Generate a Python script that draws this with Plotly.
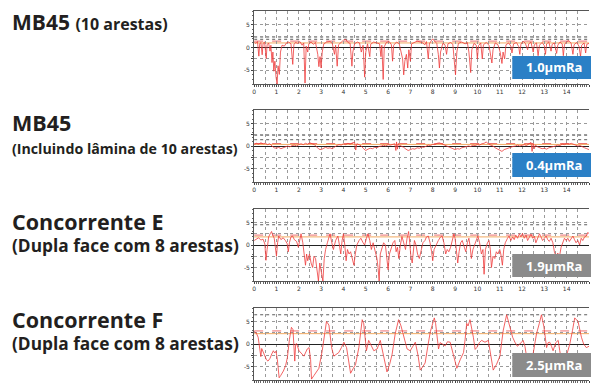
import plotly.graph_objects as go

W, H = 591, 387

# ---------------- data ----------------
titles_main = ["MB45", "MB45", "Concorrente E", "Concorrente F"]
titles_sub = ["(10 arestas)", "(Incluindo lâmina de 10 arestas)",
              "(Dupla face com 8 arestas)", "(Dupla face com 8 arestas)"]
ra_labels = ["1.0µmRa", "0.4µmRa", "1.9µmRa", "2.5µmRa"]
x_ticks = list(range(0, 16))
y_ticks = [-5, 0, 5]

p1 = [(0.00, 1.2), (0.08, 0.9), (0.15, 1.3), (0.21, -1.9), (0.25, 0.8), (0.30, 1.1), (0.36, -1.6),
      (0.40, 0.9), (0.47, 1.2), (0.54, -2.4), (0.58, 0.6), (0.65, 1.0), (0.71, -0.8), (0.75, 0.5),
      (0.80, -3.3), (0.84, -1.0), (0.88, -5.2), (0.93, -3.0), (0.98, -6.5), (1.03, -8.0), (1.07, -4.0),
      (1.13, -5.9), (1.18, -1.0), (1.25, 0.5), (1.35, 0.3), (1.45, 1.0), (1.55, 1.2), (1.65, 0.8),
      (1.73, -3.7), (1.78, 0.6), (1.85, 1.1), (1.95, 0.9), (2.05, 1.3), (2.15, 0.5), (2.22, 1.0),
      (2.28, -7.8), (2.33, 0.3), (2.40, -1.0), (2.45, 0.8), (2.55, 1.2), (2.65, 0.7), (2.75, 1.1),
      (2.85, -1.5), (2.90, -4.2), (2.95, -2.0), (3.00, -4.5), (3.05, -1.0), (3.12, 0.8), (3.25, 1.2),
      (3.40, 1.3), (3.50, 0.9), (3.60, -1.5), (3.65, 0.5), (3.72, -4.1), (3.78, 0.6), (3.90, 1.2),
      (4.00, 1.6), (4.10, 1.8), (4.20, 1.1), (4.30, 0.9), (4.38, -4.1), (4.42, -1.0), (4.50, 0.8),
      (4.62, 1.2), (4.72, 1.0), (4.80, -1.0), (4.88, 0.5), (4.95, -6.5), (5.00, -1.0), (5.08, 0.8),
      (5.18, -2.0), (5.22, 0.7), (5.35, 1.2), (5.50, 1.0), (5.62, 0.8), (5.68, -2.0), (5.72, 0.5),
      (5.78, -7.0), (5.83, 0.2), (5.92, 1.1), (6.05, 1.3), (6.15, 0.6), (6.20, -3.0), (6.25, 0.5),
      (6.38, 1.2), (6.50, 0.8), (6.58, -1.0), (6.65, -2.5), (6.70, -6.0), (6.75, -3.0), (6.82, -1.5),
      (6.88, -4.5), (6.93, -0.5), (7.00, -3.0), (7.05, 0.8), (7.15, 1.1), (7.30, 1.4), (7.45, 1.2),
      (7.55, 1.0), (7.65, 0.6), (7.72, 1.3), (7.80, -2.5), (7.85, 0.8), (7.95, 1.6), (8.00, 1.9),
      (8.08, 1.4), (8.18, 0.9), (8.25, -1.5), (8.30, -4.5), (8.35, -1.0), (8.45, 0.9), (8.55, 0.6),
      (8.62, -1.5), (8.68, 0.8), (8.80, 1.1), (8.90, 0.7), (8.95, -3.0), (9.02, -6.0), (9.08, -1.0),
      (9.15, 0.9), (9.30, 1.2), (9.45, 0.8), (9.55, 1.1), (9.62, -1.0), (9.70, -5.5), (9.75, -0.5),
      (9.85, 0.9), (9.95, 0.5), (10.00, -2.5), (10.05, 0.4), (10.15, 1.0), (10.22, -2.5), (10.27, 0.6),
      (10.40, 1.1), (10.52, 0.5), (10.60, -1.5), (10.65, -3.4), (10.70, -0.5), (10.80, 1.0),
      (10.92, 0.6), (11.02, -1.0), (11.10, -3.5), (11.15, -1.0), (11.22, -2.5), (11.28, 0.6),
      (11.40, 1.0), (11.50, 0.3), (11.55, -1.2), (11.62, 0.8), (11.75, 1.1), (11.85, 0.2),
      (11.90, -1.5), (11.95, 0.7), (12.05, 1.4), (12.15, 0.9), (12.25, -0.5), (12.30, 0.8),
      (12.40, 1.2), (12.50, -1.0), (12.55, 0.6), (12.65, 1.0), (12.72, -1.8), (12.78, 0.5),
      (12.90, 1.1), (13.00, 0.4), (13.05, -1.5), (13.10, 0.8), (13.20, 1.2), (13.30, -0.8),
      (13.35, 0.7), (13.45, 1.0), (13.55, -1.3), (13.60, 0.5), (13.70, 1.2), (13.80, 0.8),
      (13.85, -1.8), (13.90, 0.6), (14.00, 1.3), (14.10, 1.5), (14.20, 0.9), (14.28, -1.5),
      (14.33, 0.6), (14.45, 1.1), (14.55, 0.3), (14.62, -2.0), (14.67, 0.5), (14.78, 1.0),
      (14.85, -1.2), (14.90, 0.7), (15.00, 0.9)]

p2 = [(0.0, 0.3), (0.1, 0.6), (0.2, 0.4), (0.3, 0.7), (0.4, 0.5), (0.5, 0.6), (0.6, 0.3), (0.7, 0.5),
      (0.8, 0.0), (0.9, -0.4), (1.0, -0.5), (1.1, -0.3), (1.2, -0.6), (1.3, -0.4), (1.4, -0.2),
      (1.5, 0.0), (1.6, -0.2), (1.7, 0.1), (1.8, 0.2), (1.9, 0.0), (2.0, 0.3), (2.1, 0.5), (2.2, 0.3),
      (2.3, 0.6), (2.4, 0.4), (2.5, 0.7), (2.6, 0.5), (2.7, 0.3), (2.8, -0.2), (2.9, -0.7),
      (3.0, -0.8), (3.1, -0.5), (3.2, -0.3), (3.3, -0.5), (3.4, -0.4), (3.5, -0.6), (3.6, -0.2),
      (3.7, 0.1), (3.8, 0.3), (3.9, 0.2), (4.0, 0.5), (4.1, 0.3), (4.2, 0.6), (4.3, 0.4), (4.4, 0.7),
      (4.5, 0.8), (4.55, -0.9), (4.6, 0.5), (4.7, 0.3), (4.8, 0.0), (4.9, -0.6), (5.0, -1.0),
      (5.1, -0.7), (5.2, -0.5), (5.3, -0.6), (5.4, -0.3), (5.5, -0.4), (5.6, -0.1), (5.7, 0.0),
      (5.8, 0.2), (5.9, 0.0), (6.0, 0.3), (6.1, 0.2), (6.2, 0.4), (6.3, 0.5), (6.35, -1.0),
      (6.38, 0.9), (6.42, -0.7), (6.45, 0.4), (6.5, 0.2), (6.6, 0.0), (6.7, -0.3), (6.8, -0.7),
      (6.9, -1.0), (7.0, -0.8), (7.1, -0.6), (7.2, -0.7), (7.3, -0.4), (7.4, -0.5), (7.5, -0.2),
      (7.6, -0.3), (7.7, 0.0), (7.8, 0.2), (7.9, 0.1), (8.0, 0.4), (8.1, 0.3), (8.2, 0.6), (8.3, 0.7),
      (8.4, 0.5), (8.5, 0.3), (8.6, 0.1), (8.7, -0.2), (8.8, -0.4), (8.9, -0.6), (9.0, -0.8),
      (9.1, -0.6), (9.2, -0.7), (9.3, -0.4), (9.4, -0.3), (9.5, -0.2), (9.6, 0.0), (9.7, -0.1),
      (9.8, 0.2), (9.9, 0.1), (10.0, 0.3), (10.1, 0.2), (10.2, 0.5), (10.3, 0.6), (10.4, 0.9),
      (10.5, 0.4), (10.6, 0.2), (10.7, 0.0), (10.8, -0.4), (10.9, -0.7), (11.0, -0.9), (11.1, -1.2),
      (11.2, -0.8), (11.3, -0.6), (11.4, -0.4), (11.5, -0.3), (11.6, -0.1), (11.7, 0.0), (11.8, 0.2),
      (11.9, 0.0), (12.0, 0.2), (12.1, 0.3), (12.2, 0.1), (12.3, 0.4), (12.4, 0.8), (12.45, -1.2),
      (12.5, 0.6), (12.55, -0.6), (12.6, 0.2), (12.7, -0.2), (12.8, -0.4), (12.9, -0.6), (13.0, -0.5),
      (13.1, -0.7), (13.2, -0.4), (13.3, -0.3), (13.4, -0.1), (13.5, 0.0), (13.6, 0.2), (13.7, 0.1),
      (13.8, 0.4), (13.9, 0.3), (14.0, 0.5), (14.1, 0.4), (14.2, 0.6), (14.3, 0.4), (14.4, 0.3),
      (14.5, 0.0), (14.6, 0.1), (14.7, -0.2), (14.8, -0.4), (14.9, -0.6), (15.0, -0.8)]

p3 = [(0.00, 1.0), (0.10, 1.4), (0.20, 1.6), (0.30, 1.1), (0.40, 1.3), (0.48, 0.2), (0.53, -3.4),
      (0.58, -1.0), (0.65, 1.8), (0.72, 2.5), (0.78, 3.0), (0.83, 2.2), (0.90, 1.5), (0.95, -0.5),
      (1.00, -2.5), (1.05, 0.5), (1.10, 2.0), (1.20, 1.2), (1.30, 1.6), (1.40, 1.0), (1.48, 0.3),
      (1.53, -1.5), (1.58, 0.5), (1.65, 1.8), (1.72, 2.0), (1.80, 1.2), (1.90, 0.8), (1.98, -0.5),
      (2.05, 1.5), (2.10, 2.5), (2.18, 0.5), (2.22, -1.0), (2.30, -4.5), (2.35, -2.0), (2.40, -3.5),
      (2.48, -2.0), (2.55, -4.0), (2.62, -5.0), (2.68, -2.5), (2.75, -3.0), (2.82, -5.5), (2.88, -8.0),
      (2.94, -4.0), (3.00, -6.0), (3.08, -8.0), (3.14, -3.0), (3.20, -1.0), (3.28, 0.5), (3.35, 2.0),
      (3.40, 2.5), (3.48, 0.5), (3.55, -1.0), (3.65, 1.0), (3.75, 2.0), (3.82, 0.0), (3.88, -2.0),
      (3.94, 1.0), (4.00, 2.5), (4.06, 0.0), (4.12, -3.5), (4.18, -1.0), (4.25, -2.0), (4.32, -1.5),
      (4.40, -3.0), (4.47, -4.5), (4.53, -2.0), (4.60, 0.0), (4.70, 1.0), (4.78, 1.5), (4.88, 0.5),
      (4.95, 0.0), (5.03, 1.5), (5.10, 2.5), (5.18, 1.0), (5.25, -1.0), (5.33, 0.5), (5.42, -1.5),
      (5.50, -3.0), (5.55, -5.0), (5.60, -8.0), (5.65, -2.0), (5.72, -0.5), (5.80, 0.5), (5.88, 0.0),
      (5.95, -3.0), (6.00, -5.5), (6.06, -2.0), (6.15, -0.5), (6.22, 0.5), (6.30, 1.0), (6.36, -1.5),
      (6.42, -0.5), (6.48, -3.0), (6.55, 0.0), (6.62, 1.9), (6.70, 0.5), (6.78, -1.0), (6.85, 1.5),
      (6.92, 3.0), (6.97, 0.5), (7.02, -2.5), (7.08, -4.0), (7.12, -2.0), (7.18, 1.0), (7.25, 0.0),
      (7.32, -2.0), (7.40, -3.0), (7.48, -1.0), (7.56, 0.5), (7.65, 1.0), (7.72, 1.8), (7.80, 2.0),
      (7.88, 0.5), (7.95, -1.5), (8.00, -3.5), (8.06, -1.0), (8.15, 0.0), (8.25, 1.0), (8.35, 1.8),
      (8.42, 2.0), (8.50, 0.5), (8.58, -2.0), (8.65, -1.0), (8.72, -1.5), (8.80, -0.5), (8.88, 1.0),
      (8.95, 2.5), (9.00, 1.5), (9.06, -1.0), (9.12, -4.0), (9.18, -1.5), (9.25, 0.5), (9.32, 1.0),
      (9.40, -0.5), (9.48, -1.5), (9.55, 0.5), (9.62, 1.5), (9.68, -0.5), (9.73, -3.0), (9.80, -1.0),
      (9.88, 0.0), (9.95, 1.2), (10.02, 2.0), (10.10, 0.5), (10.18, -2.0), (10.25, -1.0),
      (10.30, -6.5), (10.36, -1.0), (10.45, 0.5), (10.52, 1.0), (10.58, -1.0), (10.63, -5.0),
      (10.70, -2.5), (10.78, -3.0), (10.85, -1.5), (10.92, -2.0), (11.00, -1.0), (11.05, -2.0),
      (11.12, -4.5), (11.18, -1.0), (11.25, 0.5), (11.35, 1.5), (11.42, 2.0), (11.50, 1.0),
      (11.58, 1.8), (11.65, 1.2), (11.72, 2.2), (11.80, 1.5), (11.88, 2.5), (11.95, 1.8),
      (12.02, 2.6), (12.10, 1.5), (12.18, 2.2), (12.25, 1.0), (12.32, 1.8), (12.40, 2.4),
      (12.48, 1.5), (12.55, 2.0), (12.62, 0.5), (12.70, 1.5), (12.78, 2.5), (12.85, 1.8),
      (12.92, 1.0), (13.00, 1.5), (13.08, 2.0), (13.15, 1.2), (13.22, 0.8), (13.30, 1.5),
      (13.38, 0.5), (13.45, -1.5), (13.52, -2.5), (13.60, -1.8), (13.68, -2.5), (13.75, -0.5),
      (13.82, 0.5), (13.90, 1.5), (13.98, 1.0), (14.05, 1.5), (14.12, 0.8), (14.20, 1.5),
      (14.28, 2.0), (14.35, 1.2), (14.42, 0.5), (14.50, 1.0), (14.58, 0.0), (14.65, 1.5),
      (14.72, 1.0), (14.80, 1.8), (14.88, 2.0), (14.95, 2.8), (15.00, 2.5)]

p4 = [(0.00, 2.8), (0.10, 2.4), (0.18, 1.5), (0.25, -0.5), (0.30, -2.8), (0.34, -1.0), (0.42, -2.0),
      (0.48, -2.8), (0.55, -3.5), (0.62, -3.8), (0.71, -3.2), (0.79, -2.2), (0.86, -1.5), (0.92, -2.0),
      (0.98, -1.6), (1.04, -3.5), (1.12, -7.5), (1.19, -7.0), (1.31, -6.0), (1.41, -4.8), (1.49, -3.0),
      (1.58, 1.0), (1.67, 3.7), (1.74, 3.2), (1.79, -0.4), (1.82, -3.8), (1.86, 0.0), (1.90, 0.1),
      (2.01, -1.5), (2.13, -2.2), (2.23, -2.7), (2.38, -1.1), (2.46, -0.8), (2.53, -3.5), (2.57, -7.8),
      (2.68, -7.0), (2.80, -6.2), (2.90, -5.4), (3.05, -1.5), (3.15, 2.5), (3.24, 5.0), (3.35, 4.2),
      (3.42, 1.5), (3.47, -0.8), (3.57, -2.7), (3.69, -2.3), (3.79, -1.9), (3.91, -0.8), (4.02, 0.4),
      (4.14, -0.8), (4.24, -4.0), (4.32, -6.5), (4.43, -5.5), (4.54, -4.6), (4.69, -0.8), (4.76, 2.5),
      (4.84, 5.4), (4.91, 4.5), (4.99, 1.2), (5.03, -1.5), (5.13, 0.8), (5.24, -0.5), (5.36, -1.5),
      (5.51, -1.1), (5.65, 0.8), (5.77, -2.0), (5.95, -6.2), (6.07, -4.5), (6.18, -2.3), (6.32, 2.3),
      (6.47, 5.4), (6.58, 4.0), (6.70, 1.5), (6.85, -1.1), (6.99, -1.5), (7.11, -0.5), (7.22, 0.4),
      (7.34, -2.5), (7.44, -5.8), (7.56, -5.0), (7.66, -4.2), (7.78, -0.5), (7.89, 2.7), (8.07, 5.8),
      (8.13, 4.5), (8.18, 2.3), (8.26, -1.1), (8.33, 0.3), (8.41, 0.0), (8.56, -0.4), (8.66, 0.5),
      (8.78, 0.4), (8.93, -2.5), (9.08, -5.4), (9.23, -3.5), (9.38, -1.9), (9.45, 1.0), (9.52, 4.6),
      (9.58, 4.0), (9.67, 5.4), (9.82, 1.5), (9.90, -1.2), (9.97, -0.8), (10.09, 0.3), (10.19, 0.8),
      (10.34, 0.4), (10.49, 0.8), (10.60, -2.5), (10.71, -5.8), (10.86, -4.5), (11.01, -2.7),
      (11.09, 0.5), (11.16, 3.1), (11.31, 6.5), (11.46, 3.5), (11.58, 1.5), (11.68, 0.4),
      (11.79, -0.5), (11.90, 0.0), (12.05, 0.8), (12.13, -0.5), (12.20, -2.7), (12.32, -4.5),
      (12.47, -3.0), (12.57, 0.0), (12.65, 2.3), (12.77, 4.5), (12.87, 6.5), (12.98, 3.8),
      (13.10, -0.8), (13.17, 0.3), (13.24, 0.4), (13.32, -0.5), (13.39, -1.5), (13.51, 0.3),
      (13.62, 0.8), (13.69, -1.5), (13.76, -3.5), (13.91, -4.0), (14.06, -1.5), (14.14, 0.0),
      (14.26, 3.0), (14.36, 5.8), (14.51, 5.0), (14.66, 1.5), (14.76, 0.0), (14.88, -0.8),
      (15.00, -0.5)]

profiles = [p1, p2, p3, p4]
# reference levels per panel (µm)
dark_levels = [[2.3, 1.8], [2.4, 1.4], [4.5], [6.5]]
red_levels = [1.4, 0.55, 2.2, 2.9]
orange_levels = [1.0, 0.35, 1.8, 2.3]

# ---------------- layout helpers ----------------
panel_px = [(11, 84), (110, 182), (209, 281), (308, 380)]
box_px = [(56, 79), (153, 177), (254, 277), (353, 377)]
box_colors = ["#2b80c6", "#2b80c6", "#8b8b8b", "#8b8b8b"]
X0, X1 = 253, 589


def fy(p):
    return 1 - p / H


def fx(p):
    return p / W


fig = go.Figure()
shapes = []
annotations = []
tickvals_x = [v / 2 for v in range(0, 31)]
ticktext_x = [str(int(v)) if v == int(v) else "" for v in tickvals_x]

for i in range(4):
    n = i + 1
    xs = [p[0] for p in profiles[i]]
    ys = [p[1] for p in profiles[i]]
    fig.add_trace(go.Scatter(x=xs, y=ys, mode="lines", xaxis=f"x{n}", yaxis=f"y{n}",
                             line=dict(color="#ef3b3b", width=0.8), showlegend=False,
                             hoverinfo="skip"))
    top, bot = panel_px[i]
    fig.layout[f"xaxis{n}"] = dict(
        domain=[fx(X0), fx(X1)], anchor=f"y{n}", range=[0, 15],
        tickvals=tickvals_x, ticktext=ticktext_x, ticks="outside", ticklen=2,
        tickwidth=0.6, tickcolor="#444", showticklabels=(i < 3),
        showgrid=True, gridcolor="#9a9a9a", griddash="dot", gridwidth=0.6,
        showline=True, linecolor="#555", linewidth=1, mirror=True,
        tickfont=dict(size=6, color="#333", family="DejaVu Sans"),
        minor=dict(dtick=0.1, ticks="outside", ticklen=2, tickcolor="#666", tickwidth=0.5,
                   showgrid=False),
        zeroline=False, fixedrange=True)
    fig.layout[f"yaxis{n}"] = dict(
        domain=[fy(bot), fy(top)], anchor=f"x{n}", range=[-8, 8],
        tickvals=[-5, -2.5, 0, 2.5, 5], ticktext=["-5", "", "0", "", "5"],
        ticks="outside", ticklen=2, tickwidth=0.6, tickcolor="#444",
        showgrid=True, gridcolor="#9a9a9a", griddash="dot", gridwidth=0.6,
        showline=True, linecolor="#555", linewidth=1,
        zeroline=True, zerolinecolor="#222", zerolinewidth=1,
        tickfont=dict(size=6, color="#333", family="DejaVu Sans"),
        minor=dict(dtick=1, ticks="outside", ticklen=1.5, tickcolor="#666", tickwidth=0.5,
                   showgrid=False),
        fixedrange=True)

    for lv in dark_levels[i]:
        shapes.append(dict(type="line", xref=f"x{n}", yref=f"y{n}", x0=0, x1=15, y0=lv, y1=lv,
                           line=dict(color="#333", width=0.8, dash="dot"), layer="below"))
    shapes.append(dict(type="line", xref=f"x{n}", yref=f"y{n}", x0=0, x1=15,
                       y0=red_levels[i], y1=red_levels[i],
                       line=dict(color="#e84a4a", width=0.8, dash="dash"), layer="below"))
    shapes.append(dict(type="line", xref=f"x{n}", yref=f"y{n}", x0=0, x1=15,
                       y0=orange_levels[i], y1=orange_levels[i],
                       line=dict(color="#f0a050", width=0.9), layer="below"))

    b0, b1 = box_px[i]
    shapes.append(dict(type="rect", xref="paper", yref="paper", x0=fx(512), x1=1.0,
                       y0=fy(b1), y1=fy(b0), fillcolor=box_colors[i], line=dict(width=0)))
    annotations.append(dict(xref="paper", yref="paper", x=fx(554), y=fy((b0 + b1) / 2),
                            text=f"<b>{ra_labels[i]}</b>", showarrow=False,
                            font=dict(size=13, color="white", family="Open Sans"),
                            xanchor="center", yanchor="middle"))

# titles
title_font = dict(family="Open Sans", color="#231f20")
annotations.append(dict(xref="paper", yref="paper", x=fx(8), y=fy(22),
                        text=f"<b><span style='font-size:21px'>{titles_main[0]}</span> "
                             f"<span style='font-size:16px'>{titles_sub[0]}</span></b>",
                        showarrow=False, xanchor="left", yanchor="middle",
                        font=dict(size=21, **title_font)))
# panel 2: separate lines (larger gap)
annotations.append(dict(xref="paper", yref="paper", x=fx(8), y=fy(122),
                        text=f"<b>{titles_main[1]}</b>", showarrow=False,
                        xanchor="left", yanchor="middle", font=dict(size=21.5, **title_font)))
annotations.append(dict(xref="paper", yref="paper", x=fx(8), y=fy(149),
                        text=f"<b>{titles_sub[1]}</b>", showarrow=False,
                        xanchor="left", yanchor="middle", font=dict(size=14.2, **title_font)))
# panels 3 and 4: two-line titles in one text block
for i, yc in ((2, 232.5), (3, 329.5)):
    annotations.append(dict(xref="paper", yref="paper", x=fx(8), y=fy(yc),
                            text=f"<b><span style='font-size:21.5px'>{titles_main[i]}</span>"
                                 f"<br>{titles_sub[i]}</b>",
                            showarrow=False, xanchor="left", yanchor="middle", align="left",
                            font=dict(size=17.3, **title_font)))

fig.update_layout(width=W, height=H, margin=dict(l=0, r=0, t=0, b=0),
                  paper_bgcolor="white", plot_bgcolor="white",
                  shapes=shapes, annotations=annotations, showlegend=False)
fig.write_html("out.html", config={"displayModeBar": False},
               post_script="document.body.style.margin='0';document.body.style.overflow='hidden';")
